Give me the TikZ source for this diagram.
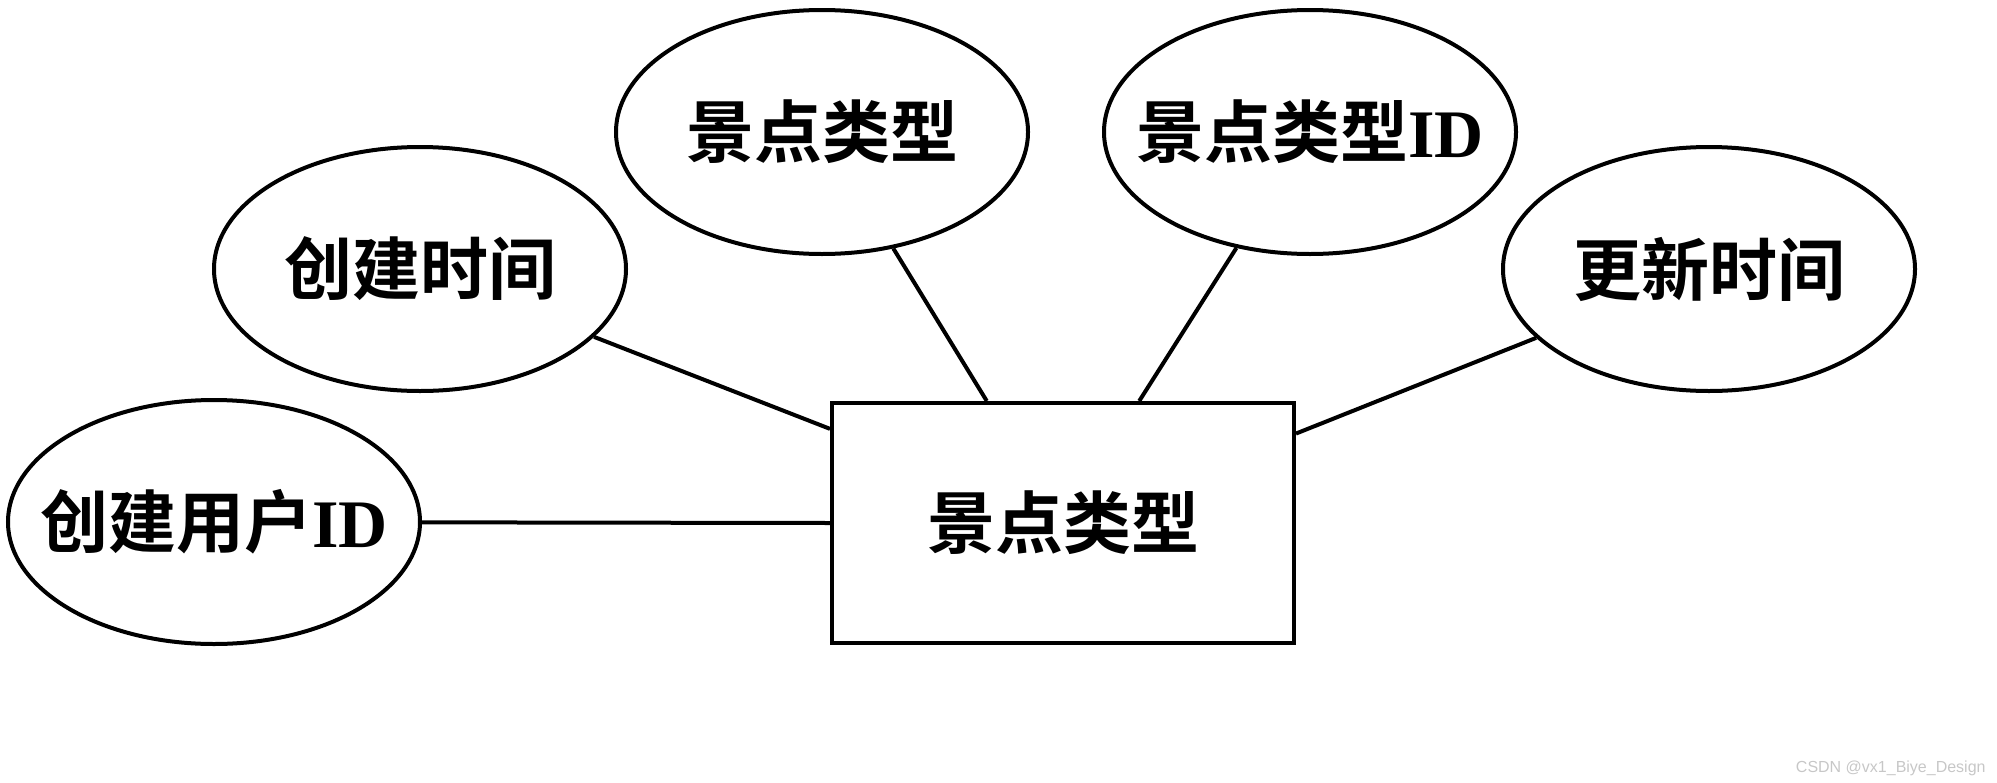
\documentclass[tikz,border=0pt]{standalone}
\usepackage{fontspec}
\setmainfont{Liberation Serif}
\newfontfamily\cjk{Noto Sans CJK SC}[BoldFont={Noto Sans CJK SC Bold}]
\newfontfamily\wmfont{Liberation Sans}
\usetikzlibrary{shapes.geometric}
\begin{document}
\begin{tikzpicture}[x=0.5pt,y=-0.5pt,
  big/.style={font=\fontsize{34}{40}\selectfont\bfseries},
  attr/.style={ellipse,draw,line width=2pt,minimum width=206pt,minimum height=122pt,inner sep=0pt},
  ent/.style={rectangle,draw,line width=2pt,minimum width=231pt,minimum height=120pt,inner sep=0pt,big},
  link/.style={line width=2pt}]
\useasboundingbox (0,0) rectangle (1997,782);
\node[ent] (r) at (1063,523) {\cjk\bfseries 景点类型};
\node[attr,label={[big,inner sep=0pt]center:{{\cjk\bfseries 创建用户}ID}}] (e1) at (214,522) {};
\node[attr,label={[big,inner sep=0pt]center:{\cjk\bfseries 创建时间}}] (e2) at (420,269) {};
\node[attr,label={[big,inner sep=0pt]center:{\cjk\bfseries 景点类型}}] (e3) at (822,132) {};
\node[attr,label={[big,inner sep=0pt]center:{{\cjk\bfseries 景点类型}ID}}] (e4) at (1310,132) {};
\node[attr,label={[big,inner sep=0pt]center:{\cjk\bfseries 更新时间}}] (e5) at (1709,269) {};
\draw[link] (e1) -- (r.west);
\draw[link] (e2) -- (r.158.5);
\draw[link] (e3) -- (r.122);
\draw[link] (e4) -- (r.58);
\draw[link] (e5) -- (r.21.5);
\node[anchor=base east,inner sep=0pt,text=black!22,font=\wmfont\fontsize{8}{10}\selectfont] (wm) at (1986,772) {CSDN @vx1\_Biye\_Design};
\end{tikzpicture}
\end{document}
